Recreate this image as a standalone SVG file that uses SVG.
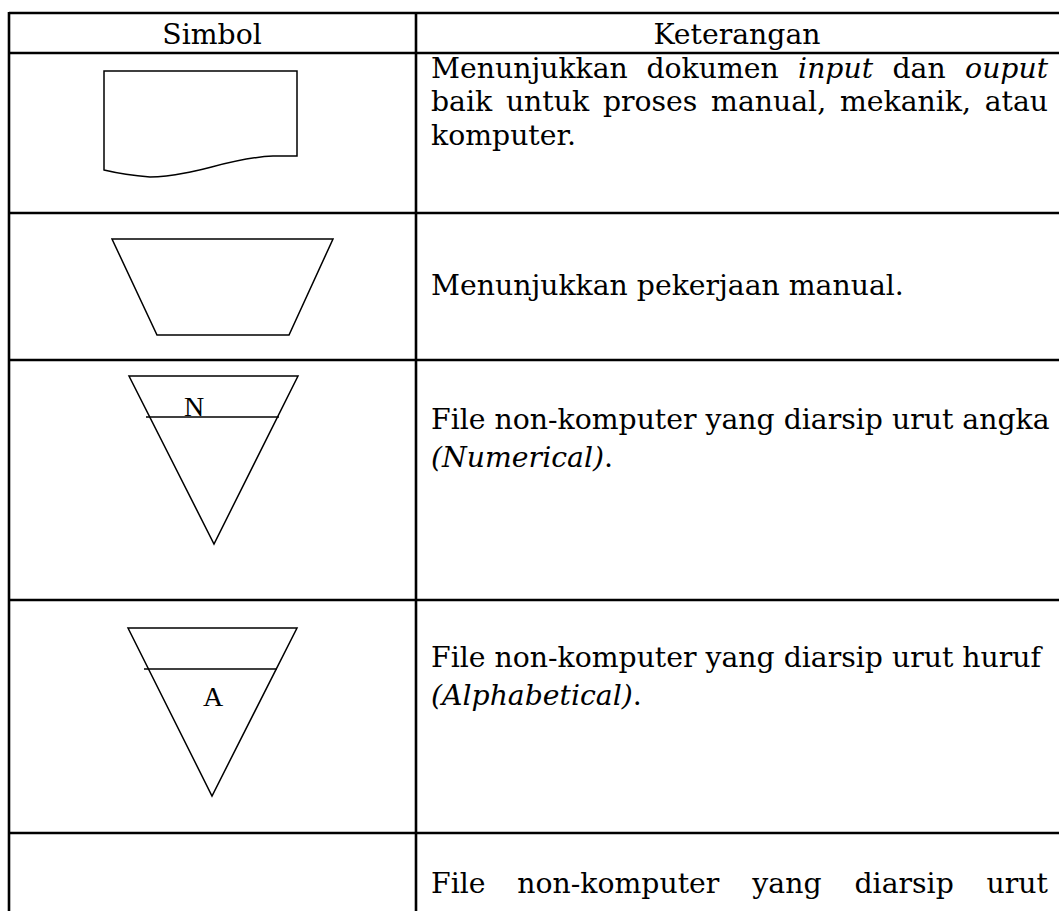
<svg xmlns="http://www.w3.org/2000/svg" width="1059" height="911" viewBox="0 0 1059 911">
<style>
.grid{stroke:#000;stroke-width:2.6;fill:none}
.sym{stroke:#000;stroke-width:1.5;fill:none;stroke-linejoin:miter}
.t{font-family:"DejaVu Serif","Liberation Serif",serif;font-size:28.3px;fill:#000}
.it{font-style:italic}
.lbl{font-family:"Liberation Serif",serif;font-size:28px;fill:#000;text-anchor:middle}
.h{text-anchor:middle}
</style>
<rect width="1059" height="911" fill="#fff"/>
<g id="table" class="grid">
<line x1="9" y1="13" x2="1059" y2="13"/>
<line x1="9" y1="53" x2="1059" y2="53"/>
<line x1="9" y1="213" x2="1059" y2="213"/>
<line x1="9" y1="360" x2="1059" y2="360"/>
<line x1="9" y1="600" x2="1059" y2="600"/>
<line x1="9" y1="833" x2="1059" y2="833"/>
<line x1="9" y1="12" x2="9" y2="911"/>
<line x1="416" y1="12" x2="416" y2="911"/>
</g>
<g id="header">
<text class="t h" x="212" y="44">Simbol</text>
<text class="t h" x="737" y="44">Keterangan</text>
</g>
<g id="doc">
<path class="sym" d="M104,71 L297,71 L297,156 L273,156 C240,157 205,170 185,173 C170,176 160,177 150,177 Q125,175 104,170 Z"/>
<text class="t" y="78"><tspan x="431">Menunjukkan</tspan><tspan x="646.4">dokumen</tspan><tspan x="798.1" class="it">input</tspan><tspan x="892.5">dan</tspan><tspan x="965.1" class="it">ouput</tspan></text>
<text class="t" y="111"><tspan x="431">baik</tspan><tspan x="505.9">untuk</tspan><tspan x="602.9">proses</tspan><tspan x="711.1">manual,</tspan><tspan x="840">mekanik,</tspan><tspan x="984.7">atau</tspan></text>
<text class="t" x="431" y="145">komputer.</text>
</g>
<g id="manual">
<polygon class="sym" points="112,239 333,239 289,335 157,335"/>
<text class="t" x="431" y="295">Menunjukkan pekerjaan manual.</text>
</g>
<g id="fileN">
<polygon class="sym" points="129,376 298,376 214,544"/>
<line class="sym" x1="146" y1="417" x2="279" y2="417"/>
<text class="lbl" x="194" y="416">N</text>
<text class="t" x="431" y="429">File non-komputer yang diarsip urut angka</text>
<text class="t" x="431" y="467"><tspan class="it">(Numerical)</tspan>.</text>
</g>
<g id="fileA">
<polygon class="sym" points="128,628 297,628 212,796"/>
<line class="sym" x1="144" y1="669" x2="277" y2="669"/>
<text class="lbl" x="213" y="706">A</text>
<text class="t" x="431" y="667">File non-komputer yang diarsip urut huruf</text>
<text class="t" x="431" y="705"><tspan class="it">(Alphabetical)</tspan>.</text>
</g>
<g id="fileC">
<text class="t" y="893"><tspan x="431">File</tspan><tspan x="517.3">non-komputer</tspan><tspan x="752.3">yang</tspan><tspan x="854.5">diarsip</tspan><tspan x="986.6">urut</tspan></text>
</g>
</svg>
